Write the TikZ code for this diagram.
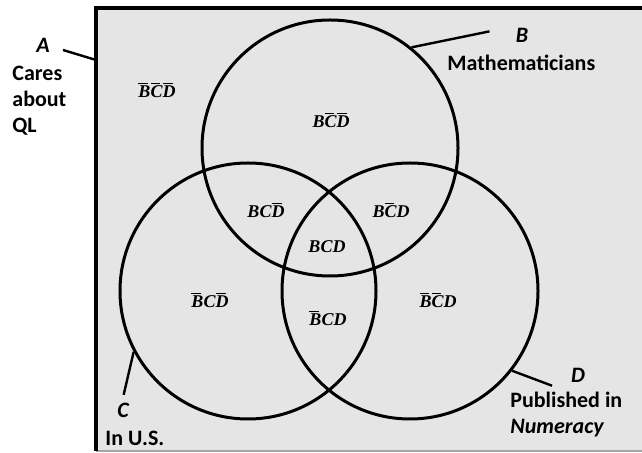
\documentclass[tikz,border=0pt]{standalone}
\usepackage{fontspec}
\setmainfont{Carlito}
\newfontfamily\regfont{Liberation Serif}
\usepackage{tikz}
\usetikzlibrary{positioning}

\newcommand{\nb}[1]{$\overline{\mbox{#1}\kern-1.2pt}\kern1.2pt$}

\begin{document}
\begin{tikzpicture}[
  x=0.5pt, y=-0.5pt,
  venn/.style={circle, draw, line width=1.5pt, minimum size=128pt, inner sep=0pt},
  lbl/.style={font=\fontsize{11}{13}\selectfont\bfseries, inner sep=0pt, align=left},
  letr/.style={font=\fontsize{11}{13}\selectfont\bfseries\itshape, inner sep=0pt, anchor=base},
  reg/.style={font=\fontsize{9}{11}\selectfont\regfont\bfseries\itshape, inner sep=0pt, anchor=base},
  tick/.style={line width=1.2pt}
]
\useasboundingbox (0,0) rectangle (642,453);
% universe A
\fill[gray!20] (96,8) rectangle (642,451);
\draw[gray!70, line width=0.6pt] (96,451) -- (642,451);
\draw[line width=2pt] (96,451) |- (642,8);
\coordinate (edgeA) at (96,60);

% the three sets
\node[venn] (cB) at (330,148) {};
\node[venn] (cC) at (248,291) {};
\node[venn] (cD) at (410,291) {};

% set names
\node[letr] (lA) at (43,53) {A};
\node[lbl, anchor=north west] (tA) at (12,66) {Cares\\about\\QL};
\node[letr] (lB) at (522,43) {B};
\node[lbl, anchor=base west] (tB) at (447,71) {Mathematicians};
\node[letr] (lC) at (123,418) {C};
\node[lbl, anchor=base west] (tC) at (105,446) {In U.S.};
\node[letr] (lD) at (578,383) {D};
\node[lbl, anchor=base west] (tD) at (510,434) {Published in\\\textit{Numeracy}};

\draw[tick] (63,50) coordinate (eA) -- (edgeA);
\draw[tick] (cB.51) -- ++(78,-16) coordinate (eB);
\draw[tick] (cC.208) -- ++(-10,43) coordinate (eC);
\draw[tick] (cD.-38) -- ++(40,15) coordinate (eD);

% regions
\node[reg] (r000) at (157,98) {\nb{B}\nb{C}\nb{D}};
\node[reg] (r100) at (331,128) {B\nb{C}\nb{D}};
\node[reg] (r110) at (266,218) {BC\nb{D}};
\node[reg] (r101) at (391,218) {B\nb{C}D};
\node[reg] (r111) at (327,253) {BCD};
\node[reg] (r010) at (210,308) {\nb{B}C\nb{D}};
\node[reg] (r011) at (328,326) {\nb{B}CD};
\node[reg] (r001) at (438,308) {\nb{B}\nb{C}D};
\end{tikzpicture}
\end{document}
